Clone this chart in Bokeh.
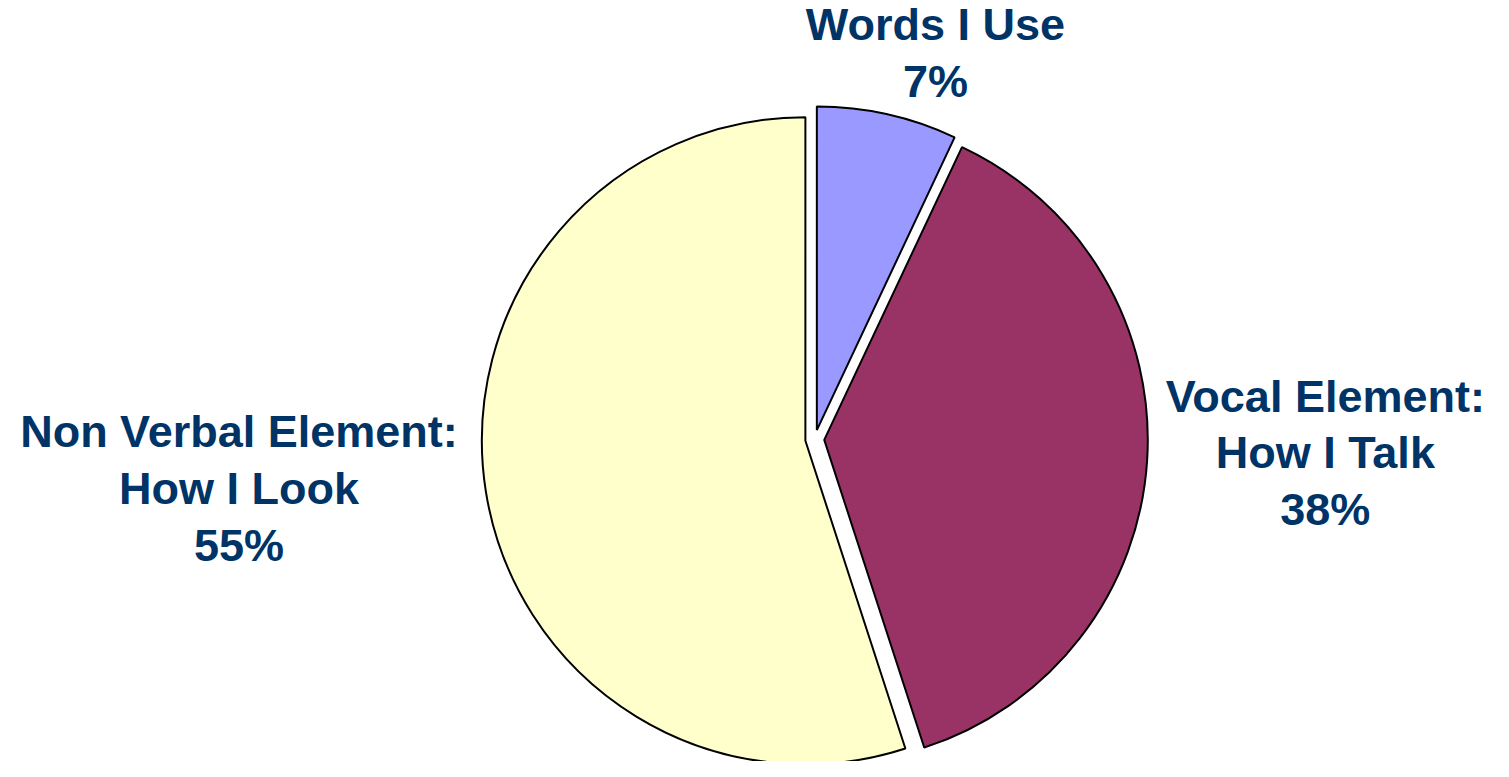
import math
from bokeh.plotting import figure
from bokeh.models import ColumnDataSource, Range1d
from bokeh.core.properties import value
from bokeh.embed import file_html
from bokeh.resources import INLINE

# ---- data ----
categories = ["Words I Use", "Vocal Element:\nHow I Talk", "Non Verbal Element:\nHow I Look"]
percents = [7, 38, 55]
colors = ["#9999FF", "#993366", "#FFFFCC"]

# ---- layout (coordinates in the 1509x777 reference picture) ----
REF_W, REF_H = 1509, 777
W, H = 1493, 761
CX, CY = 823, 448          # pie centre
R = 327                    # radius
EXPLODE = 9.6              # explode distance
# label anchor: (centre x, first baseline y)
label_pos = [(945, 42), (1339, 421), (241, 457)]
LINE_GAP = 58
BASELINE_FIX = 17          # renderer draws baseline lower than requested
TEXT_COLOR = "#003366"
FONT = "Liberation Sans"

def sy(y):
    return REF_H - y

p = figure(width=W, height=H, output_backend="svg", toolbar_location=None,
           x_range=Range1d(0, REF_W), y_range=Range1d(0, REF_H),
           min_border=0, outline_line_color=None)
p.axis.visible = False
p.grid.visible = False
p.background_fill_color = "white"
p.border_fill_color = "white"

total = sum(percents)
xs, ys, starts, ends = [], [], [], []
cum = 0.0
for v in percents:
    a = cum / total
    b = (cum + v) / total
    cum += v
    st = math.pi / 2 - 2 * math.pi * a
    en = math.pi / 2 - 2 * math.pi * b
    mid = (st + en) / 2
    xs.append(CX + EXPLODE * math.cos(mid))
    ys.append(sy(CY) + EXPLODE * math.sin(mid))
    starts.append(st)
    ends.append(en)

src = ColumnDataSource(dict(x=xs, y=ys, start=starts, end=ends, color=colors))
p.wedge(x="x", y="y", radius=R, start_angle="start", end_angle="end",
        direction="clock", fill_color="color", line_color="black", line_width=2,
        source=src)

tx, ty, tt = [], [], []
for cat, pct, (lx, ly) in zip(categories, percents, label_pos):
    lines = cat.split("\n") + [f"{pct}%"]
    for i, line in enumerate(lines):
        tx.append(lx)
        ty.append(sy(ly + i * LINE_GAP - BASELINE_FIX))
        tt.append(line)

tsrc = ColumnDataSource(dict(x=tx, y=ty, text=tt))
p.text(x="x", y="y", text="text", source=tsrc, text_align="center",
       text_baseline="alphabetic", text_font=value(FONT), text_font_style="bold",
       text_font_size="45px", text_color=TEXT_COLOR)

open("out.html", "w").write(file_html(p, INLINE))
